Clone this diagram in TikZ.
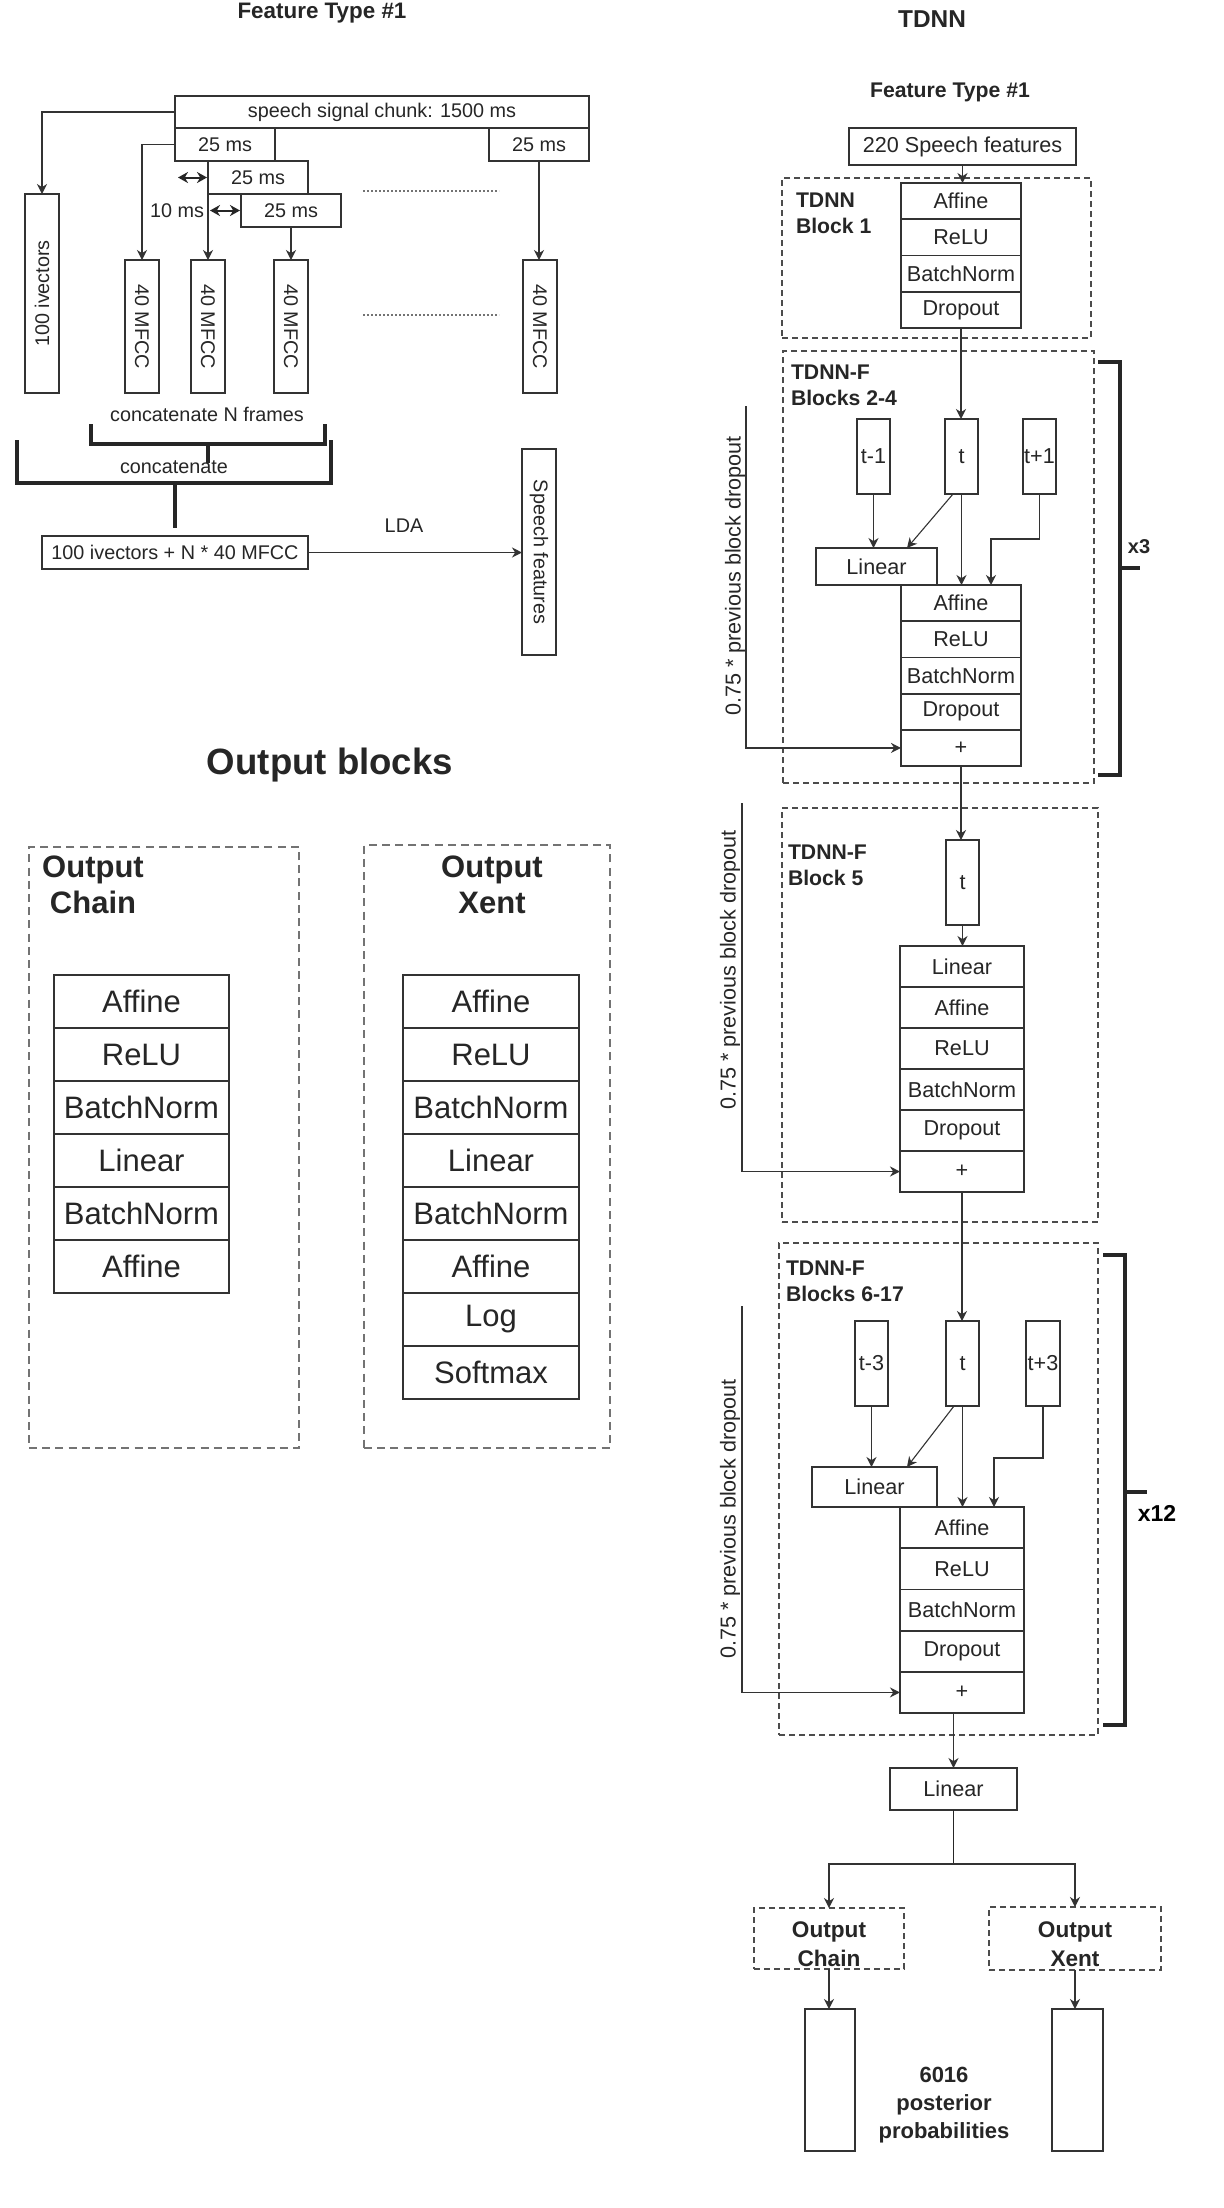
\documentclass[tikz,border=0pt]{standalone}
\usepackage{fontspec}
\setmainfont{Liberation Sans}
\usetikzlibrary{arrows.meta}
% box given by two corners: [style]{name}{x1}{y1}{x2}{y2}{text}
\newcommand\fbx[7][]{\node[#1,inner sep=0pt,anchor=center,
  minimum width={(#5-#3)*0.5pt},minimum height={(#6-#4)*0.5pt}]
  (#2) at ({(#3+#5)/2},{(#4+#6)/2}) {#7};}
% vertical stack of cells: {prefix}{x1}{x2}{ytop}{row height}{text style}{labels}
\newcommand\cellstack[7]{%
  \foreach \lab [count=\i] in {#7}{%
    \pgfmathsetmacro\ya{#4+(\i-1)*#5}%
    \pgfmathsetmacro\yb{#4+\i*#5}%
    \fbx[cell,#6]{#1\i}{#2}{\ya}{#3}{\yb}{\lab}}}
\begin{document}
\begin{tikzpicture}[x=0.5pt,y=-0.5pt,
  every node/.style={inner sep=0pt,outer sep=0pt},
  ltxt/.style={font=\fontsize{9.9}{12}\selectfont,text=black!85},
  rtxt/.style={font=\fontsize{10.8}{13}\selectfont,text=black!85},
  otxt/.style={font=\fontsize{15.5}{18.6}\selectfont,text=black!85},
  head/.style={font=\bfseries\fontsize{10.6}{13}\selectfont,text=black!85},
  cell/.style={draw=black!80,line width=0.9pt},
  arr/.style={draw=black!80,line width=0.8pt,-{Stealth[length=5pt,width=5pt,inset=1.6pt]}},
  thinarr/.style={arr,line width=0.55pt},
  darr/.style={draw=black!85,line width=1pt,{Stealth[length=5pt,width=5.5pt,inset=1.6pt]}-{Stealth[length=5pt,width=5.5pt,inset=1.6pt]}},
  brk/.style={draw=black!85,line width=1.6pt},
  grp/.style={draw=black!70,line width=0.9pt,dash pattern=on 3pt off 2pt},
  ogrp/.style={draw=black!55,line width=1.3pt,dash pattern=on 4pt off 2.6pt},
  dots/.style={draw=black!55,line width=0.9pt,dash pattern=on 0.8pt off 1.2pt},
]
\fill[white] (0,0) rectangle (1224,2208);
\useasboundingbox (0,0) rectangle (1224,2208);

% ---------------- feature extraction ----------------
\node[font=\bfseries\fontsize{11.2}{13}\selectfont,text=black!85] (ft1) at (322,13) {Feature Type \#1};
\fbx[cell,ltxt]{chunk}{175}{96}{589}{128}{speech signal chunk: 1500 ms}
\fbx[cell,ltxt]{wA}{175}{128}{275}{161}{25 ms}
\fbx[cell,ltxt]{wF}{489}{128}{589}{161}{25 ms}
\fbx[cell,ltxt]{wB}{208}{161}{308}{194}{25 ms}
\fbx[cell,ltxt]{wC}{241}{194}{341}{227}{25 ms}
\fbx[cell]{iv}{25}{194}{59}{393}{}
\node[ltxt,rotate=90] at (iv.center) {100 ivectors};
\foreach \nm/\xa in {m1/125,m2/191,m3/274,m4/523}{
  \fbx[cell]{\nm}{\xa}{260}{\xa+34}{393}{}
  \node[ltxt,rotate=-90] at (\nm.center) {40 MFCC};
}
\draw[arr] (chunk.west) -| (iv.north);
\draw[arr] (wA.west) -| (m1.north);
\draw[arr] (wB.south west) -- (m2.north);
\draw[arr] (wC.south) -- (m3.north);
\draw[arr] (wF.south) -- (wF.south |- m4.north);
\coordinate (d1) at (wA.west |- wB.west);
\draw[darr] ([xshift=1.5pt]d1) -- ([xshift=-0.5pt]wB.west);
\coordinate (d2) at (wB.west |- wC.west);
\node[ltxt,anchor=east] at ([xshift=-2pt]d2) {10 ms};
\draw[darr] ([xshift=1pt]d2) -- ([xshift=-0.5pt]wC.west);
\draw[dots] (363,191) -- (499,191);
\draw[dots] (363,315) -- (499,315);

\node[ltxt] at (207,414) {concatenate N frames};
\draw[brk] (91,424) |- (325,444) -- (325,424);
\draw[brk] (208,444) -- (208,463);
\node[ltxt] at (174,467) {concatenate};
\draw[brk] (17,440) |- (331,483) -- (331,440);
\fbx[cell,ltxt]{cat}{42}{536}{308}{569}{100 ivectors + N * 40 MFCC}
\draw[brk] (cat.north |- 0,483) -- ([yshift=4pt]cat.north);
\fbx[cell]{sf}{522}{449}{556}{655}{}
\node[ltxt,rotate=-90] at (sf.center) {Speech features};
\draw[arr] (cat.east) -- (cat.east -| sf.west);
\node[ltxt] at (404,526) {LDA};

% ---------------- output blocks ----------------
\node[font=\bfseries\fontsize{18.3}{22}\selectfont,text=black!85] at (330,765) {Output blocks};
\fbx[ogrp]{ochain}{29}{847}{299}{1448}{}
\node[font=\bfseries\fontsize{15.5}{18}\selectfont,text=black!85,align=center] at (93,885) {Output\\Chain};
\cellstack{oc}{54}{229}{975}{53}{otxt}{Affine,ReLU,BatchNorm,Linear,BatchNorm,Affine}
\fbx[ogrp]{oxent}{364}{845}{610}{1448}{}
\node[font=\bfseries\fontsize{15.5}{18}\selectfont,text=black!85,align=center] at (492,885) {Output\\Xent};
\cellstack{ox}{403}{579}{975}{53}{otxt}{Affine,ReLU,BatchNorm,Linear,BatchNorm,Affine,Log,Softmax}

% ---------------- TDNN ----------------
\node[font=\bfseries\fontsize{12.2}{14}\selectfont,text=black!85] at (932,19) {TDNN};
\node[font=\bfseries\fontsize{10.6}{13}\selectfont,text=black!85] at (950,92) {Feature Type \#1};
\fbx[cell,rtxt]{sp}{849}{128}{1076}{165}{220 Speech features}

% block 1
\fbx[grp]{g1}{782}{178}{1091}{338}{}
\node[head,align=left,anchor=west] at (796,213) {TDNN\\Block 1};
\cellstack{a}{901}{1021}{183}{36.25}{rtxt}{Affine,ReLU,BatchNorm,Dropout}
\draw[arr] (sp.south) -- (sp.south |- a1.north);

% blocks 2-4
\fbx[grp]{g2}{783}{351}{1094}{783}{}
\node[head,align=left,anchor=west] at (791,385) {TDNN-F\\Blocks 2-4};
\fbx[cell,rtxt]{bm}{857}{419}{890}{494}{t-1}
\fbx[cell,rtxt]{bt}{945}{419}{978}{494}{t}
\fbx[cell,rtxt]{bp}{1023}{419}{1056}{494}{t+1}
\fbx[cell,rtxt]{bl}{816}{548}{937}{585}{Linear}
\cellstack{b}{901}{1021}{585}{36.2}{rtxt}{Affine,ReLU,BatchNorm,Dropout,+}
\draw[arr] (a4.south) -- (a4.south |- bt.north);
\draw[arr] (bm.south) -- (bm.south |- bl.north);
\draw[thinarr] ([xshift=-4.25pt]bt.south) -- ([xshift=-15pt]bl.north east);
\draw[arr] (bt.south) -- (bt.south |- b1.north);
\draw[arr] (bp.south) -- ++(0,45) -| ([xshift=15pt]b1.north);
\coordinate (k2) at (746,406);
\draw[arr] (k2) |- (b5.west);
\node[rtxt,rotate=90] at (735,576) {0.75 * previous block dropout};
\draw[brk] (1098,362) -| (1120,775) -- (1098,775);
\draw[brk] (1120,568) -- (1140,568);
\node[font=\bfseries\fontsize{10}{12}\selectfont,text=black!85] at (1139,547) {x3};

% block 5
\fbx[grp]{g5}{782}{808}{1098}{1222}{}
\node[head,align=left,anchor=west] at (788,865) {TDNN-F\\Block 5};
\fbx[cell,rtxt]{ct}{946}{840}{979}{925}{t}
\cellstack{c}{900}{1024}{946}{41}{rtxt}{Linear,Affine,ReLU,BatchNorm,Dropout,+}
\draw[arr] (b5.south) -- (b5.south |- ct.north);
\draw[arr] (ct.south) -- (ct.south |- c1.north);
\coordinate (k5) at (742,803);
\draw[arr] (k5) |- (c6.west);
\node[rtxt,rotate=90] at (730,970) {0.75 * previous block dropout};

% blocks 6-17
\fbx[grp]{g6}{779}{1243}{1098}{1735}{}
\node[head,align=left,anchor=west] at (786,1281) {TDNN-F\\Blocks 6-17};
\fbx[cell,rtxt]{dm}{855}{1321}{888}{1406}{t-3}
\fbx[cell,rtxt]{dt}{946}{1321}{979}{1406}{t}
\fbx[cell,rtxt]{dp}{1026}{1321}{1060}{1406}{t+3}
\fbx[cell,rtxt]{dl}{812}{1467}{937}{1507}{Linear}
\cellstack{d}{900}{1024}{1507}{41.2}{rtxt}{Affine,ReLU,BatchNorm,Dropout,+}
\draw[arr] (c6.south) -- (c6.south |- dt.north);
\draw[arr] (dm.south) -- (dm.south |- dl.north);
\draw[thinarr] ([xshift=-4.25pt]dt.south) -- ([xshift=-15pt]dl.north east);
\draw[arr] (dt.south) -- (dt.south |- d1.north);
\draw[arr] (dp.south) -- ++(0,52) -| ([xshift=16pt]d1.north);
\coordinate (k6) at (742,1306);
\draw[arr] (k6) |- (d5.west);
\node[rtxt,rotate=90] at (730,1519) {0.75 * previous block dropout};
\draw[brk] (1103,1255) -| (1125,1725) -- (1103,1725);
\draw[brk] (1125,1492) -- (1147,1492);
\node[font=\bfseries\fontsize{11.5}{13}\selectfont,text=black] at (1157,1513) {x12};

% output head
\fbx[cell,rtxt]{lf}{890}{1768}{1017}{1810}{Linear}
\draw[arr] (lf.north |- d5.south) -- (lf.north);
\draw[draw=black!85,line width=0.9pt] (lf.south) -- ++(0,54) coordinate (br);
\fbx[grp]{outC}{754}{1908}{904}{1969}{}
\fbx[grp]{outX}{989}{1907}{1161}{1970}{}
\node[font=\bfseries\fontsize{11.3}{14.5}\selectfont,text=black!85,align=center] at (829,1944) {Output\\Chain};
\node[font=\bfseries\fontsize{11.3}{14.5}\selectfont,text=black!85,align=center] at (1075,1944) {Output\\Xent};
\draw[arr] (br) -| (outC.north);
\draw[arr] (br) -| (outX.north);
\fbx[cell]{pc}{805}{2009}{855}{2151}{}
\fbx[cell]{px}{1052}{2009}{1103}{2151}{}
\draw[arr] (outC.south) -- (outC.south |- pc.north);
\draw[arr] (outX.south) -- (outX.south |- px.north);
\node[font=\bfseries\fontsize{11}{14}\selectfont,text=black!85,align=center] at (944,2105) {6016\\posterior\\probabilities};
\end{tikzpicture}
\end{document}
